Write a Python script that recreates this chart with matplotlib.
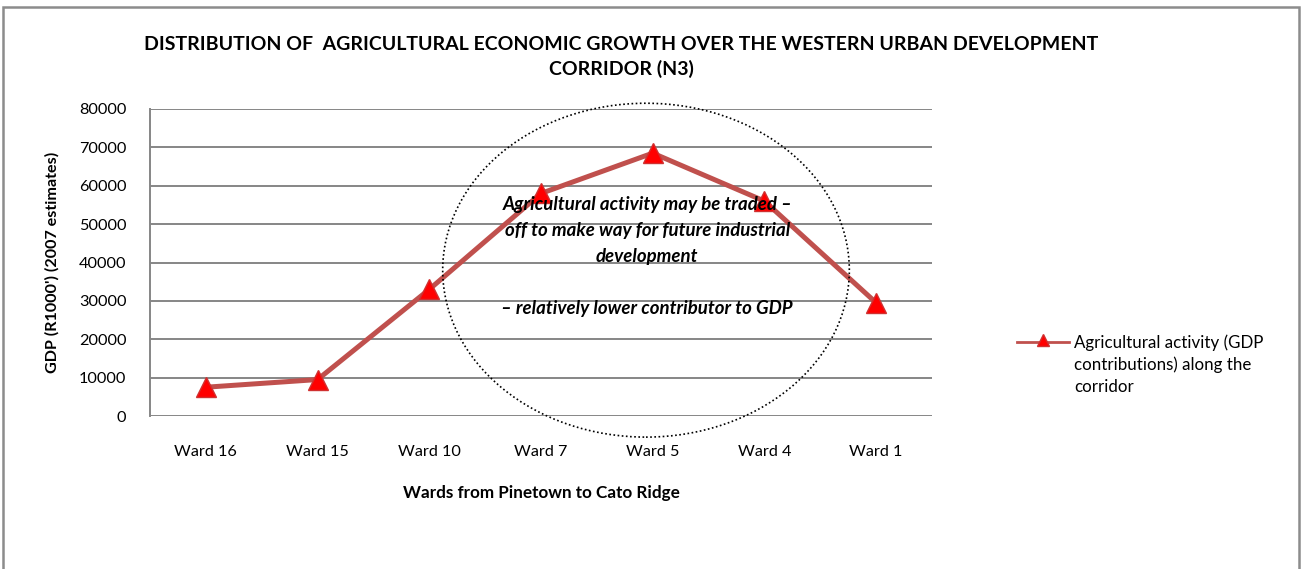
import matplotlib.pyplot as plt  # Plotting
from matplotlib.patches import Ellipse, Rectangle  # Annotation shapes
from matplotlib.lines import Line2D  # Legend handle

# Chart data
wards = ['Ward 16', 'Ward 15', 'Ward 10', 'Ward 7', 'Ward 5', 'Ward 4', 'Ward 1']
gdp = [7500, 9500, 33000, 58000, 68500, 56000, 29500]
y_ticks = [0, 10000, 20000, 30000, 40000, 50000, 60000, 70000, 80000]

title = ('DISTRIBUTION OF  AGRICULTURAL ECONOMIC GROWTH OVER THE WESTERN URBAN DEVELOPMENT\n'
         'CORRIDOR (N3)')
note = ('Agricultural activity may be traded \u2013\n'
        'off to make way for future industrial\n'
        'development\n\n'
        '\u2013 relatively lower contributor to GDP')
series_name = 'Agricultural activity (GDP\ncontributions) along the\ncorridor'

plt.rcParams['font.family'] = ['Lato', 'DejaVu Sans']

fig = plt.figure(figsize=(13.04, 5.69), dpi=100)

# Outer chart frame (bottom runs off the picture)
fig.patches.append(Rectangle((3 / 1304, -0.05), 1296 / 1304, 1 - 7 / 569 + 0.05,
                             transform=fig.transFigure, fill=False,
                             edgecolor='#8c8c8c', linewidth=1.8))

ax = fig.add_axes([150 / 1304, 1 - 416 / 569, 782 / 1304, 307 / 569])

x = list(range(len(wards)))
ax.plot(x, gdp, color='#C0504D', linewidth=3.6, marker='^', markersize=14,
        markerfacecolor='#FF0000', markeredgecolor='#D03030', markeredgewidth=1, zorder=3)

ax.set_xlim(-0.5, len(wards) - 0.5)
ax.set_ylim(0, 80000)
ax.set_yticks(y_ticks)
ax.set_yticklabels([str(v) for v in y_ticks], fontsize=11.7)
ax.set_xticks(x)
ax.set_xticklabels(wards, fontsize=11.7)
ax.tick_params(length=0)
ax.tick_params(axis='x', pad=21)
ax.tick_params(axis='y', pad=17)
ax.grid(axis='y', color='#868686', linewidth=1.4)
ax.set_axisbelow(True)
for side in ['top', 'right', 'bottom']:
    ax.spines[side].set_visible(False)
ax.spines['left'].set_color('#868686')
ax.spines['left'].set_linewidth(1.4)

ax.set_ylabel("GDP (R1000') (2007 estimates)", fontsize=11.6, fontweight='bold', labelpad=14)
fig.text(541 / 1304, 1 - 493 / 569, 'Wards from Pinetown to Cato Ridge', ha='center', va='center',
         fontsize=12.3, fontweight='bold')

fig.text(621 / 1304, 1 - 57 / 569, title, ha='center', va='center', fontsize=14,
         fontweight='bold', linespacing=1.45)

# Dotted ellipse and note
ax.add_patch(Ellipse((3.94, 38000), 3.64, 87000, fill=False, edgecolor='black',
                     linestyle=(0, (1, 1.5)), linewidth=1.2, clip_on=False, zorder=4))
ax.text(3.95, 41600, note, ha='center', va='center', fontsize=13.4, fontweight='bold',
        fontstyle='italic', linespacing=1.64, zorder=5)

# Legend drawn by hand so the key sits level with the first text line
key_y = 1 - 342 / 569
fig.add_artist(Line2D([1017 / 1304, 1069 / 1304], [key_y, key_y], transform=fig.transFigure,
                      color='#C0504D', linewidth=2))
fig.add_artist(Line2D([1043 / 1304], [key_y + 2 / 569], transform=fig.transFigure, linestyle='none',
                      marker='^', markersize=8, markerfacecolor='#FF0000', markeredgecolor='#D03030'))
fig.text(1074 / 1304, 1 - 334 / 569, series_name, ha='left', va='top', fontsize=12.2,
         linespacing=1.46)

fig.savefig('out.png', dpi=100)
